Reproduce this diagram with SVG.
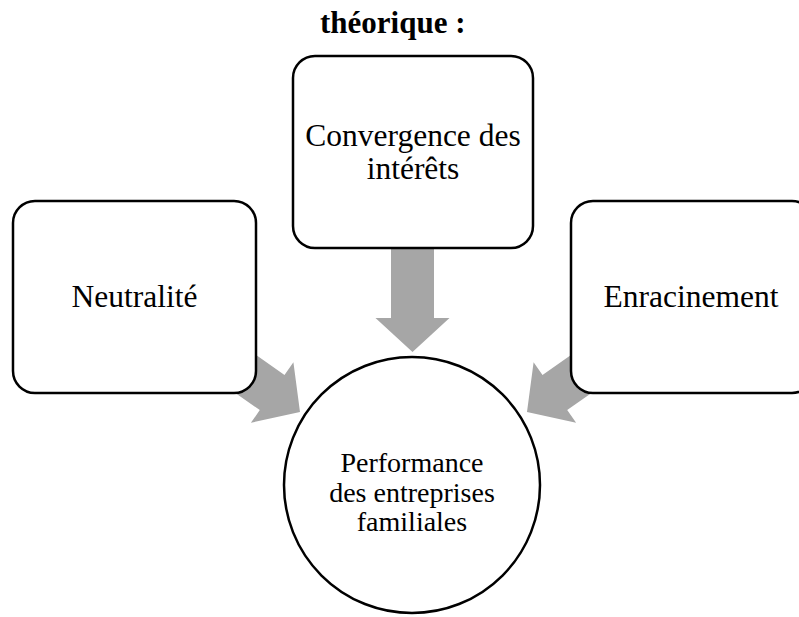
<svg xmlns="http://www.w3.org/2000/svg" width="799" height="617" viewBox="0 0 799 617">
<style>
  .box { fill: #ffffff; stroke: #000000; stroke-width: 2.5; }
  .arrow { fill: #a6a6a6; stroke: none; }
  .lbl { font-family: "Liberation Serif", "Times New Roman", serif; font-size: 31.5px; fill: #000; text-anchor: middle; }
  .clbl { font-family: "Liberation Serif", "Times New Roman", serif; font-size: 28px; fill: #000; text-anchor: middle; }
  .title { font-family: "Liberation Serif", "Times New Roman", serif; font-size: 31px; font-weight: bold; fill: #000; }
</style>
<rect width="799" height="617" fill="#ffffff"/>
<text class="title" x="320" y="33">théorique :</text>
<g id="connectors">
  <polygon class="arrow" points="391,240 434,240 434,318 449.5,318 412.5,352 375.5,318 391,318"/>
  <polygon class="arrow" points="300,412 293.4,362.2 284.5,374.9 210.8,323.3 186.1,358.5 259.8,410.1 250.9,422.8"/>
  <polygon class="arrow" points="527,412 533.6,362.2 542.5,374.9 616.2,323.3 640.9,358.5 567.2,410.1 576.1,422.8"/>
</g>
<g id="node-convergence">
  <rect class="box" x="293" y="56" width="240" height="192" rx="22" ry="22"/>
  <text class="lbl" x="413" y="146">Convergence des</text>
  <text class="lbl" x="413" y="179">intérêts</text>
</g>
<g id="node-neutralite">
  <rect class="box" x="13" y="201" width="243" height="192" rx="22" ry="22"/>
  <text class="lbl" x="134.5" y="307">Neutralité</text>
</g>
<g id="node-enracinement">
  <rect class="box" x="571" y="201" width="243" height="192" rx="22" ry="22"/>
  <text class="lbl" x="691" y="307">Enracinement</text>
</g>
<g id="node-performance">
  <circle class="box" cx="412" cy="485" r="128" stroke-width="2"/>
  <text class="clbl" x="412" y="472">Performance</text>
  <text class="clbl" x="412" y="502">des entreprises</text>
  <text class="clbl" x="412" y="531">familiales</text>
</g>
</svg>
